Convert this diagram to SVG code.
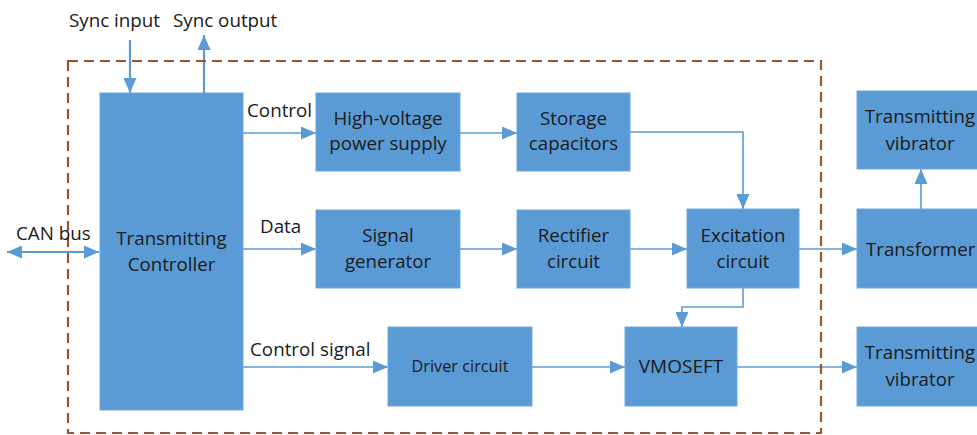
<svg xmlns="http://www.w3.org/2000/svg" width="977" height="435" viewBox="0 0 977 435">
<style>
.box{fill:#5b9bd5;stroke:#6fa8dc;stroke-width:1}
.t{font-family:"Open Sans","Liberation Sans",sans-serif;font-size:18.7px;fill:#1a1a1a;text-anchor:middle}
.lb{font-family:"Open Sans","Liberation Sans",sans-serif;font-size:18.8px;fill:#1a1a1a}
.c{fill:none;stroke:#5b9bd5;stroke-width:1.6}
.ct{fill:none;stroke:#5b9bd5;stroke-width:2.2}
</style>
<defs>
<marker id="ah" markerUnits="userSpaceOnUse" markerWidth="16" markerHeight="13" refX="15" refY="6.5" orient="auto">
<path d="M0,0 L15,6.5 L0,13 z" fill="#5b9bd5"/>
</marker>
<marker id="ahs" markerUnits="userSpaceOnUse" markerWidth="16" markerHeight="13" refX="0" refY="6.5" orient="auto">
<path d="M15,0 L0,6.5 L15,13 z" fill="#5b9bd5"/>
</marker>
</defs>
<rect width="977" height="435" fill="#ffffff"/>

<g id="connectors">
<line class="ct" x1="130" y1="40" x2="130" y2="93" marker-end="url(#ah)"/>
<line class="ct" x1="204" y1="93" x2="204" y2="35" marker-end="url(#ah)"/>
<line class="ct" x1="7" y1="252" x2="99" y2="252" marker-start="url(#ahs)" marker-end="url(#ah)"/>
<line class="c" x1="243" y1="133" x2="316" y2="133" marker-end="url(#ah)"/>
<line class="c" x1="460" y1="133" x2="517" y2="133" marker-end="url(#ah)"/>
<polyline class="c" points="630,132 743,132 743,209" marker-end="url(#ah)"/>
<line class="c" x1="243" y1="249" x2="316" y2="249" marker-end="url(#ah)"/>
<line class="c" x1="460" y1="249" x2="517" y2="249" marker-end="url(#ah)"/>
<line class="c" x1="630" y1="249" x2="687" y2="249" marker-end="url(#ah)"/>
<line class="c" x1="799" y1="249" x2="857" y2="249" marker-end="url(#ah)"/>
<line class="c" x1="921" y1="209" x2="921" y2="169" marker-end="url(#ah)"/>
<line class="c" x1="243" y1="367" x2="388" y2="367" marker-end="url(#ah)"/>
<line class="c" x1="532" y1="367" x2="625" y2="367" marker-end="url(#ah)"/>
<polyline class="c" points="743,288 743,307 682,307 682,327" marker-end="url(#ah)"/>
<line class="c" x1="737" y1="367" x2="857" y2="367" marker-end="url(#ah)"/>
</g>

<rect id="boundary" x="68" y="61" width="753" height="372" fill="none" stroke="#a0522d" stroke-width="2.2" stroke-dasharray="10,6"/>

<g id="labels">
<text class="lb" x="69" y="27">Sync input</text>
<text class="lb" x="173" y="27">Sync output</text>
<text class="lb" x="16" y="240">CAN bus</text>
<text class="lb" x="247" y="117">Control</text>
<text class="lb" x="260" y="233">Data</text>
<text class="lb" x="250" y="356">Control signal</text>
</g>

<g id="controller">
<rect class="box" x="100" y="93" width="143" height="317"/>
<text class="t" x="171.5" y="245">Transmitting</text>
<text class="t" x="171.5" y="271">Controller</text>
</g>
<g id="hv">
<rect class="box" x="316" y="93" width="144" height="78"/>
<text class="t" x="388" y="125">High-voltage</text>
<text class="t" x="388" y="150">power supply</text>
</g>
<g id="storage">
<rect class="box" x="517" y="93" width="113" height="78"/>
<text class="t" x="573.5" y="125">Storage</text>
<text class="t" x="573.5" y="150">capacitors</text>
</g>
<g id="siggen">
<rect class="box" x="316" y="210" width="144" height="78"/>
<text class="t" x="388" y="242">Signal</text>
<text class="t" x="388" y="268">generator</text>
</g>
<g id="rectifier">
<rect class="box" x="517" y="210" width="113" height="78"/>
<text class="t" x="573.5" y="242">Rectifier</text>
<text class="t" x="573.5" y="268">circuit</text>
</g>
<g id="excitation">
<rect class="box" x="687" y="209" width="112" height="79"/>
<text class="t" x="743" y="242">Excitation</text>
<text class="t" x="743" y="268">circuit</text>
</g>
<g id="driver">
<rect class="box" x="388" y="327" width="144" height="79"/>
<text class="t" x="460" y="372" style="font-size:16.3px">Driver circuit</text>
</g>
<g id="vmos">
<rect class="box" x="625" y="327" width="112" height="79"/>
<text class="t" x="681" y="373" style="font-size:19px">VMOSEFT</text>
</g>
<g id="vibrator-top">
<rect class="box" x="857" y="91" width="130" height="78"/>
<text class="t" x="920" y="123">Transmitting</text>
<text class="t" x="920" y="150">vibrator</text>
</g>
<g id="transformer">
<rect class="box" x="857" y="209" width="130" height="79"/>
<text class="t" x="866" y="256" style="text-anchor:start">Transformer</text>
</g>
<g id="vibrator-bottom">
<rect class="box" x="857" y="327" width="130" height="79"/>
<text class="t" x="920" y="359">Transmitting</text>
<text class="t" x="920" y="386">vibrator</text>
</g>
</svg>
